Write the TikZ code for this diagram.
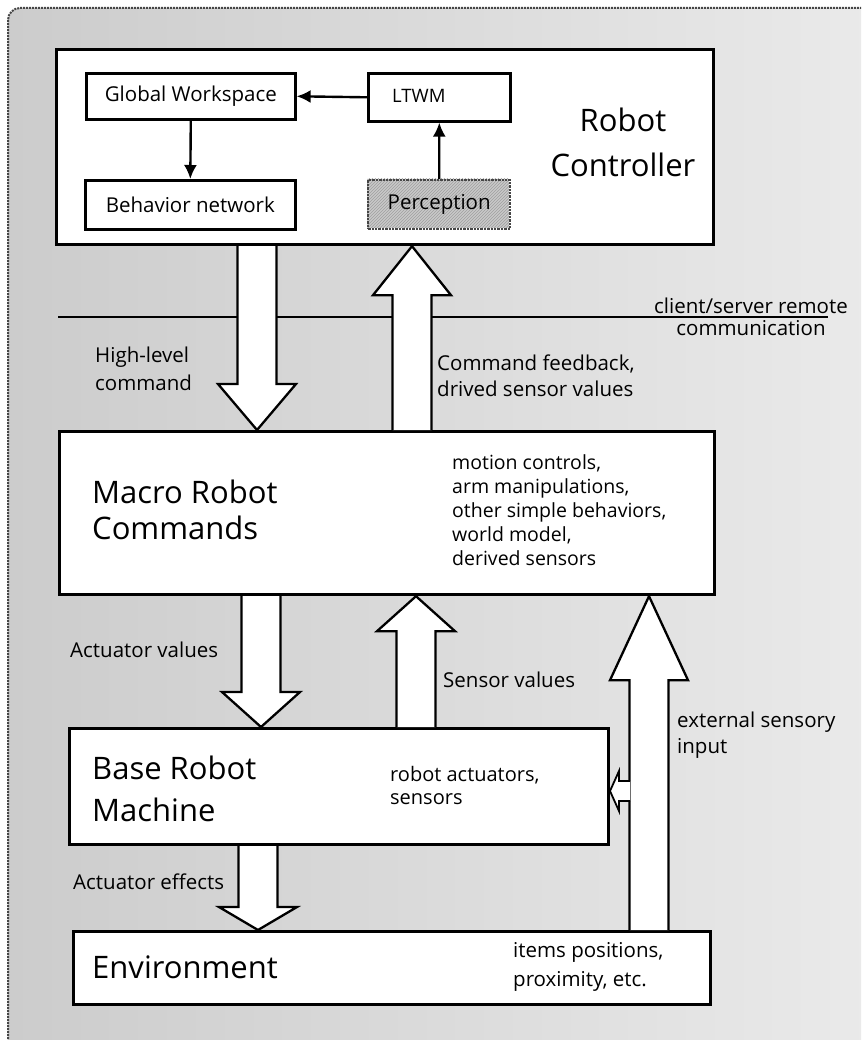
\documentclass[tikz,border=0pt]{standalone}
\usepackage{fontspec}
\setmainfont{Open Sans}
\usetikzlibrary{arrows.meta,patterns,calc}

\tikzset{
  x=1pt, y=-1pt,
  box/.style={draw=black, line width=3.2pt, fill=white, inner sep=0pt, anchor=north west},
  inbox/.style={draw=black, line width=2.6pt, fill=white, inner sep=0pt, anchor=north west,
    font=\fontsize{20.5}{25}\selectfont},
  lbl/.style={inner sep=0pt, anchor=west, align=left, font=\fontsize{20.5}{27}\selectfont},
  big/.style={inner sep=0pt, anchor=west, align=left, font=\fontsize{31}{37}\selectfont},
  desc/.style={inner sep=0pt, anchor=west, align=left, font=\fontsize{19.5}{24}\selectfont},
  fatarrow/.style={draw=black, line width=2.3pt, fill=white, line join=miter},
  thinarrow/.style={line width=2.4pt, -{Latex[length=14pt,width=13pt]}},
}

% hollow block arrow: #1 tail, #2 tip, #3 signed head length
\newcommand{\blockarrow}[3]{%
  \draw[fatarrow] ($#1+(-19.5,0)$) -- ($#2+(-19.5,#3)$) -- ($#2+(-39,#3)$) -- #2
    -- ($#2+(39,#3)$) -- ($#2+(19.5,#3)$) -- ($#1+(19.5,0)$);}

\begin{document}
\begin{tikzpicture}
\useasboundingbox (0,0) rectangle (861,1040);

% grey panel with rounded frame
\begin{scope}
  \clip (0,0) rectangle (861,1040);
  \draw[rounded corners=12pt, left color=gray!40, right color=gray!16,
        draw=gray!55!black, line width=2pt, densely dotted]
    (8,8) rectangle (890,1070);
\end{scope}

% remote communication boundary
\coordinate (csL) at (58,317);
\coordinate (csR) at (828,317);
\draw[line width=2.8pt] (csL) -- (csR);
\node[inner sep=0pt, align=center, font=\fontsize{20.5}{22}\selectfont] (cs) at (751,317)
  {client/server remote\\communication};

% layers
\node[box, minimum width=657pt, minimum height=195pt] (rc) at (55,48) {};
\node[box, minimum width=655pt, minimum height=163pt] (mrc) at (58,430) {};
\node[box, minimum width=539pt, minimum height=116pt] (brm) at (68,727) {};
\node[box, minimum width=637pt, minimum height=73pt] (env) at (72,930) {};

% controller internals
\node[inbox, minimum width=209pt, minimum height=46pt] (gw) at (85,72) {Global Workspace};
\node[inbox, minimum width=210pt, minimum height=49pt] (bn) at (84,179) {Behavior network};
\node[inbox, minimum width=142pt, minimum height=48pt] (ltwm) at (367,72) {};
\node[inner sep=0pt, anchor=west, font=\fontsize{18.5}{23}\selectfont] (ltwmt) at (392,96) {LTWM};
\fill[gray!42] (367,179) rectangle (509,228);
\fill[pattern=north east lines, pattern color=gray!75] (367,179) rectangle (509,228);
\node[draw=gray!55!black, line width=2.4pt, densely dotted, inner sep=0pt, anchor=north west,
      minimum width=142pt, minimum height=49pt, font=\fontsize{20.5}{25}\selectfont]
  (perc) at (367,179) {Perception};
\node[inner sep=0pt, align=center, font=\fontsize{31}{45}\selectfont] (rct) at (623,142)
  {Robot\\Controller};

\draw[thinarrow] (ltwm.west) -- (gw.east);
\draw[thinarrow] (gw.south) -- (bn.north);
\draw[thinarrow] (perc.north) -- (ltwm.south);

% arrow columns
\coordinate (xa) at (257,0);
\coordinate (xb) at (412,0);
\coordinate (xc) at (261,0);
\coordinate (xd) at (416,0);
\coordinate (xe) at (649,0);
\coordinate (xf) at (258,0);

\blockarrow{(rc.south -| xa)}{(mrc.north -| xa)}{-46}
\blockarrow{(mrc.north -| xb)}{(rc.south -| xb)}{49}
\blockarrow{(mrc.south -| xc)}{(brm.north -| xc)}{-35}
\blockarrow{(brm.north -| xd)}{(mrc.south -| xd)}{35}
\blockarrow{(env.north -| xe)}{(mrc.south -| xe)}{84}
\blockarrow{(brm.south -| xf)}{(env.north -| xf)}{-23}

% small branch into the base machine
\draw[line width=1.8pt, fill=white, line join=miter]
  (630,781) -- (619,781) -- (619,771) -- (610,791) -- (619,811) -- (619,801) -- (630,801);

% texts
\node[lbl, font=\fontsize{20.5}{28}\selectfont] (hlc) at (95,369) {High-level\\command};
\node[lbl, font=\fontsize{20.5}{26}\selectfont] (cfb) at (437,376) {Command feedback,\\drived sensor values};
\node[big, font=\fontsize{31}{36}\selectfont] (mrct) at (92,510) {Macro Robot\\Commands};
\node[desc] (mrcd) at (452,510) {motion controls,\\arm manipulations,\\other simple behaviors,\\world model,\\derived sensors};
\node[lbl] (av) at (70,650) {Actuator values};
\node[lbl] (sv) at (443,680) {Sensor values};
\node[lbl, font=\fontsize{20.5}{26}\selectfont] (esi) at (677,735) {external sensory\\input};
\node[big, font=\fontsize{31}{42}\selectfont] (brmt) at (92,789) {Base Robot\\Machine};
\node[desc, font=\fontsize{20}{23}\selectfont] (brmd) at (390,785) {robot actuators,\\sensors};
\node[lbl] (ae) at (73,882) {Actuator effects};
\node[big] (envt) at (92,967) {Environment};
\node[desc, font=\fontsize{20.5}{29}\selectfont] (envd) at (513,967) {items positions,\\proximity, etc.};
\end{tikzpicture}
\end{document}
